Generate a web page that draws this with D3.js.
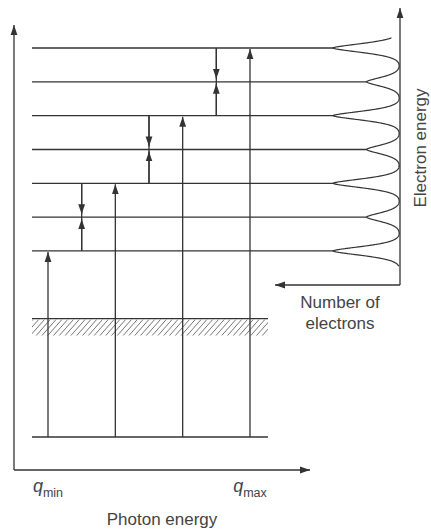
<!DOCTYPE html>
<html>
<head>
<meta charset="utf-8">
<script src="https://cdnjs.cloudflare.com/ajax/libs/d3/7.8.5/d3.min.js"></script>
<style>
  body { margin: 0; background: #fff; }
  svg { display: block; font-family: "Liberation Sans", Arial, sans-serif; }
</style>
</head>
<body>
<div id="viz"></div>
<script>
// electron energies of the discrete levels (ground line = 0)
var levelEnergies = [5.5, 6.5, 7.5, 8.5, 9.5, 10.5, 11.5];
// relative number of electrons in each level (peak height)
var electronCounts = [2, 1, 2, 1, 2, 1, 2];
// photon energies absorbed (level reached from ground)
var photonEnergies = [5.5, 7.5, 9.5, 11.5];
// intermediate levels that electrons relax into
var relaxLevels = [6.5, 8.5, 10.5];
var groundEnergy = 0;
var bandEdge = 3.5;
var photonLabels = [{q: "q", sub: "min"}, {q: "q", sub: "max"}];

var width = 431, height = 530;
var ink = "#333";
var textInk = "#444";

var svg = d3.select("#viz").append("svg")
  .attr("width", width)
  .attr("height", height);

var defs = svg.append("defs");
defs.append("marker")
  .attr("id", "head")
  .attr("viewBox", "0 0 10 10")
  .attr("refX", 10).attr("refY", 5)
  .attr("markerWidth", 10).attr("markerHeight", 10)
  .attr("markerUnits", "userSpaceOnUse")
  .attr("orient", "auto")
  .append("path")
  .attr("d", "M0,1.6L10,5L0,8.4Z")
  .attr("fill", ink);

// scales
var y = d3.scaleLinear().domain([groundEnergy, 11.5]).range([437, 48]);
var x = d3.scaleLinear().domain([5.5, 11.5]).range([48, 250]);
var baseX = 400;
var n = d3.scaleLinear().domain([0, 2]).range([baseX, 333]);

var levelLeft = 32, bandRight = 268;

// outer axes (photon energy / vertical)
svg.append("path")
  .attr("d", "M14,470V25")
  .attr("stroke", ink).attr("stroke-width", 1.3).attr("fill", "none")
  .attr("marker-end", "url(#head)");
svg.append("path")
  .attr("d", "M14,470H310")
  .attr("stroke", ink).attr("stroke-width", 1.3).attr("fill", "none")
  .attr("marker-end", "url(#head)");

// distribution axes
svg.append("path")
  .attr("d", "M" + baseX + ",285V8")
  .attr("stroke", ink).attr("stroke-width", 1.3).attr("fill", "none")
  .attr("marker-end", "url(#head)");
svg.append("path")
  .attr("d", "M" + baseX + ",285H275")
  .attr("stroke", ink).attr("stroke-width", 1.3).attr("fill", "none")
  .attr("marker-end", "url(#head)");

// ground line and band edge
svg.append("line")
  .attr("x1", levelLeft).attr("x2", bandRight)
  .attr("y1", y(groundEnergy)).attr("y2", y(groundEnergy))
  .attr("stroke", ink).attr("stroke-width", 1.3);
svg.append("line")
  .attr("x1", levelLeft).attr("x2", bandRight)
  .attr("y1", y(bandEdge)).attr("y2", y(bandEdge))
  .attr("stroke", ink).attr("stroke-width", 1.3);

// hatching under the band edge
defs.append("clipPath").attr("id", "hatchClip")
  .append("rect")
  .attr("x", levelLeft).attr("y", y(bandEdge))
  .attr("width", bandRight - levelLeft).attr("height", 17);
var hatch = svg.append("g").attr("clip-path", "url(#hatchClip)");
hatch.selectAll("line")
  .data(d3.range(levelLeft - 20, bandRight + 5, 5.8))
  .enter().append("line")
  .attr("x1", d => d).attr("y1", y(bandEdge) + 18)
  .attr("x2", d => d + 15).attr("y2", y(bandEdge) + 1)
  .attr("stroke", "#666").attr("stroke-width", 0.9);

// energy levels
svg.selectAll(".level")
  .data(levelEnergies)
  .enter().append("line")
  .attr("class", "level")
  .attr("x1", levelLeft)
  .attr("x2", (d, i) => n(electronCounts[i]))
  .attr("y1", d => y(d)).attr("y2", d => y(d))
  .attr("stroke", ink).attr("stroke-width", 1.3);

// photon absorption arrows
svg.selectAll(".photon")
  .data(photonEnergies)
  .enter().append("line")
  .attr("class", "photon")
  .attr("x1", d => x(d)).attr("x2", d => x(d))
  .attr("y1", y(groundEnergy)).attr("y2", d => y(d) + 1)
  .attr("stroke", ink).attr("stroke-width", 1.3)
  .attr("marker-end", "url(#head)");

// relaxation arrows towards intermediate levels
var relax = svg.selectAll(".relax")
  .data(relaxLevels)
  .enter().append("g").attr("class", "relax");
relax.append("line")
  .attr("x1", d => x(d)).attr("x2", d => x(d))
  .attr("y1", d => y(d + 1)).attr("y2", d => y(d - 1))
  .attr("stroke", ink).attr("stroke-width", 1.3);
relax.append("line")
  .attr("x1", d => x(d)).attr("x2", d => x(d))
  .attr("y1", d => y(d + 1)).attr("y2", d => y(d) - 3)
  .attr("stroke", ink).attr("stroke-width", 1.3)
  .attr("marker-end", "url(#head)");
relax.append("line")
  .attr("x1", d => x(d)).attr("x2", d => x(d))
  .attr("y1", d => y(d - 1)).attr("y2", d => y(d) + 2)
  .attr("stroke", ink).attr("stroke-width", 1.3)
  .attr("marker-end", "url(#head)");

// electron distribution: narrow pointed peak at each level, back on the axis between them
var w = 0.19;
function profile(e) {
  var s = 0;
  levelEnergies.forEach((L, i) => {
    s += electronCounts[i] * Math.exp(-Math.pow(Math.abs(e - L) / w, 1.6));
  });
  return s;
}
var samples = d3.range(levelEnergies[0] - 0.45, levelEnergies[levelEnergies.length - 1] + 0.3, 0.004);
var line = d3.line()
  .x(e => n(profile(e)))
  .y(e => y(e));
svg.append("path")
  .datum(samples)
  .attr("d", line)
  .attr("fill", "none")
  .attr("stroke", ink).attr("stroke-width", 1.2);

// labels
var lbl = svg.append("g").attr("fill", textInk);

var qEnds = [photonEnergies[0], photonEnergies[photonEnergies.length - 1]];
photonLabels.forEach((p, i) => {
  var t = lbl.append("text")
    .attr("x", x(qEnds[i]))
    .attr("y", 492)
    .attr("text-anchor", "middle");
  t.append("tspan").attr("font-style", "italic").attr("font-size", 18).text(p.q);
  t.append("tspan").attr("font-size", 12.5).attr("dy", 5).text(p.sub);
});

lbl.append("text")
  .attr("x", 162).attr("y", 525)
  .attr("text-anchor", "middle")
  .attr("font-size", 17)
  .text("Photon energy");

lbl.append("text")
  .attr("x", 340).attr("y", 308)
  .attr("text-anchor", "middle")
  .attr("font-size", 17)
  .text("Number of");
lbl.append("text")
  .attr("x", 340).attr("y", 329)
  .attr("text-anchor", "middle")
  .attr("font-size", 17)
  .text("electrons");

lbl.append("text")
  .attr("transform", "translate(426,148) rotate(-90)")
  .attr("text-anchor", "middle")
  .attr("font-size", 17)
  .text("Electron energy");
</script>
</body>
</html>
